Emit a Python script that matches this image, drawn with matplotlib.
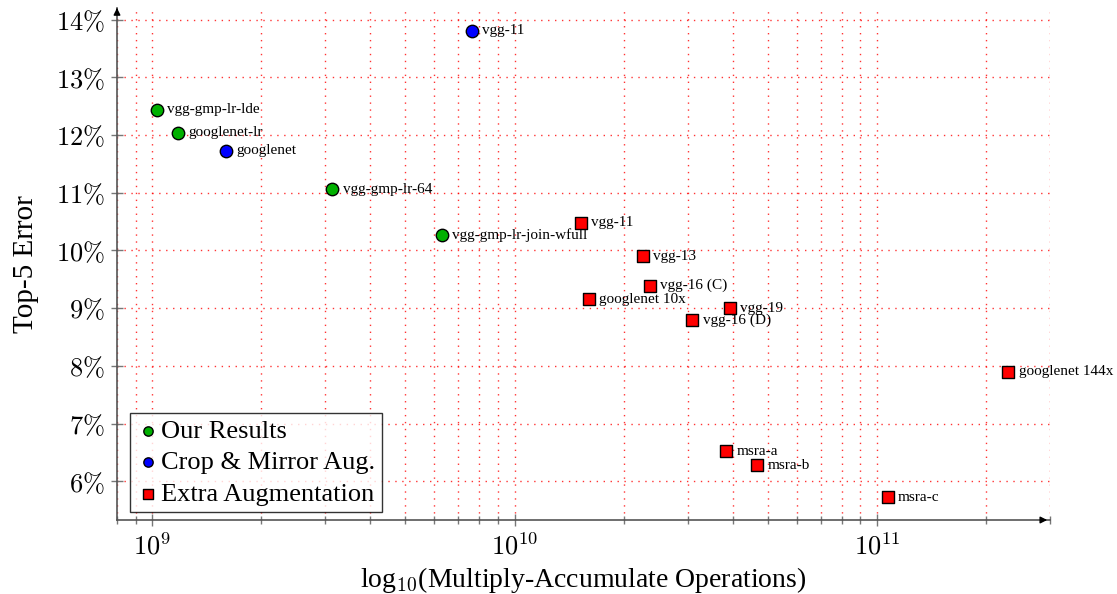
import matplotlib
matplotlib.use("Agg")
import matplotlib.pyplot as plt
from matplotlib.ticker import FixedLocator, NullFormatter
import numpy as np

plt.rcParams['font.family'] = ['Liberation Serif', 'DejaVu Serif']
plt.rcParams['mathtext.fontset'] = 'cm'

# Data
our_names = ["vgg-gmp-lr-lde", "googlenet-lr", "vgg-gmp-lr-64", "vgg-gmp-lr-join-wfull"]
our_macs = [1.03e9, 1.18e9, 3.14e9, 6.3e9]
our_err = [12.44, 12.04, 11.06, 10.26]

crop_names = ["vgg-11", "googlenet"]
crop_macs = [7.63e9, 1.6e9]
crop_err = [13.81, 11.73]

extra_names = ["vgg-11", "vgg-13", "vgg-16 (C)", "googlenet 10x", "vgg-19", "vgg-16 (D)",
               "googlenet 144x", "msra-a", "msra-b", "msra-c"]
extra_macs = [1.52e10, 2.26e10, 2.36e10, 1.6e10, 3.93e10, 3.09e10,
              2.3e11, 3.83e10, 4.67e10, 1.07e11]
extra_err = [10.48, 9.90, 9.39, 9.15, 9.00, 8.79, 7.90, 6.52, 6.28, 5.72]

y_ticks = [6, 7, 8, 9, 10, 11, 12, 13, 14]
x_major = [1e9, 1e10, 1e11]

fig = plt.figure(figsize=(11.17, 5.94), dpi=100)
ax = fig.add_axes([117/1117, 1 - 520/594, (1050-117)/1117, (520-8)/594])
ax.set_xscale('log')
ax.set_xlim(8e8, 3e11)
ax.set_ylim(5.33, 14.2)

green = '#00b000'
blue = '#0000ff'
red = '#ff0000'

ax.scatter(our_macs, our_err, s=80, c=green, edgecolors='black', linewidths=1.0,
           marker='o', zorder=3, label='Our Results')
ax.scatter(crop_macs, crop_err, s=80, c=blue, edgecolors='black', linewidths=1.0,
           marker='o', zorder=3, label='Crop & Mirror Aug.')
ax.scatter(extra_macs, extra_err, s=80, c=red, edgecolors='black', linewidths=1.0,
           marker='s', zorder=3, label='Extra Augmentation')

for names, xs, ys in [(our_names, our_macs, our_err), (crop_names, crop_macs, crop_err),
                      (extra_names, extra_macs, extra_err)]:
    for n, x, y in zip(names, xs, ys):
        ax.annotate(n, (x, y), xytext=(7.5, 0), textcoords='offset points',
                    ha='left', va='center', fontsize=11, zorder=4)

# ticks
ax.set_yticks(y_ticks)
ax.set_yticklabels([r'$%d\%%$' % v for v in y_ticks], fontsize=19)
ax.xaxis.set_major_locator(FixedLocator(x_major))
ax.set_xticklabels([r'$10^{%d}$' % int(np.log10(v)) for v in x_major], fontsize=19)
minors = [m * 10.0**e for e in (8, 9, 10, 11) for m in range(2, 10)]
minors = [v for v in minors if 8e8 <= v <= 3e11]
ax.xaxis.set_minor_locator(FixedLocator(minors))
ax.xaxis.set_minor_formatter(NullFormatter())
ax.tick_params(axis='both', which='major', direction='inout', length=8, color='#777777', width=1, pad=5)
ax.tick_params(axis='x', which='minor', direction='inout', length=6, color='#777777', width=1)
ax.tick_params(axis='y', which='minor', left=False)

ax.grid(True, which='major', axis='both', color='red', linestyle=(0, (1, 4)), linewidth=1.0, alpha=0.8)
ax.grid(True, which='minor', axis='x', color='red', linestyle=(0, (1, 4)), linewidth=1.0, alpha=0.8)
ax.set_axisbelow(True)

for s in ['top', 'right']:
    ax.spines[s].set_visible(False)
for s in ['left', 'bottom']:
    ax.spines[s].set_color('#555555')
    ax.spines[s].set_linewidth(1.2)

# arrows
ax.annotate('', xy=(1.0, 0), xycoords='axes fraction', xytext=(0.99, 0),
            arrowprops=dict(arrowstyle='-|>', color='black', lw=1.0, mutation_scale=10))
ax.annotate('', xy=(0, 1.0), xycoords='axes fraction', xytext=(0, 0.99),
            arrowprops=dict(arrowstyle='-|>', color='black', lw=1.0, mutation_scale=10))

ax.set_ylabel('Top-5 Error', fontsize=21, labelpad=12)
ax.set_xlabel(r'log$_{10}$(Multiply-Accumulate Operations)', fontsize=20, labelpad=4)

leg = ax.legend(loc='lower left', bbox_to_anchor=(0.008, 0.005), fontsize=19, frameon=True,
                fancybox=False, edgecolor='black', handletextpad=0.05, borderpad=0.25,
                labelspacing=0.3, handlelength=0.9, markerscale=0.75, borderaxespad=0.2)
leg.get_frame().set_linewidth(1.0)

fig.savefig('out.png', dpi=100)
